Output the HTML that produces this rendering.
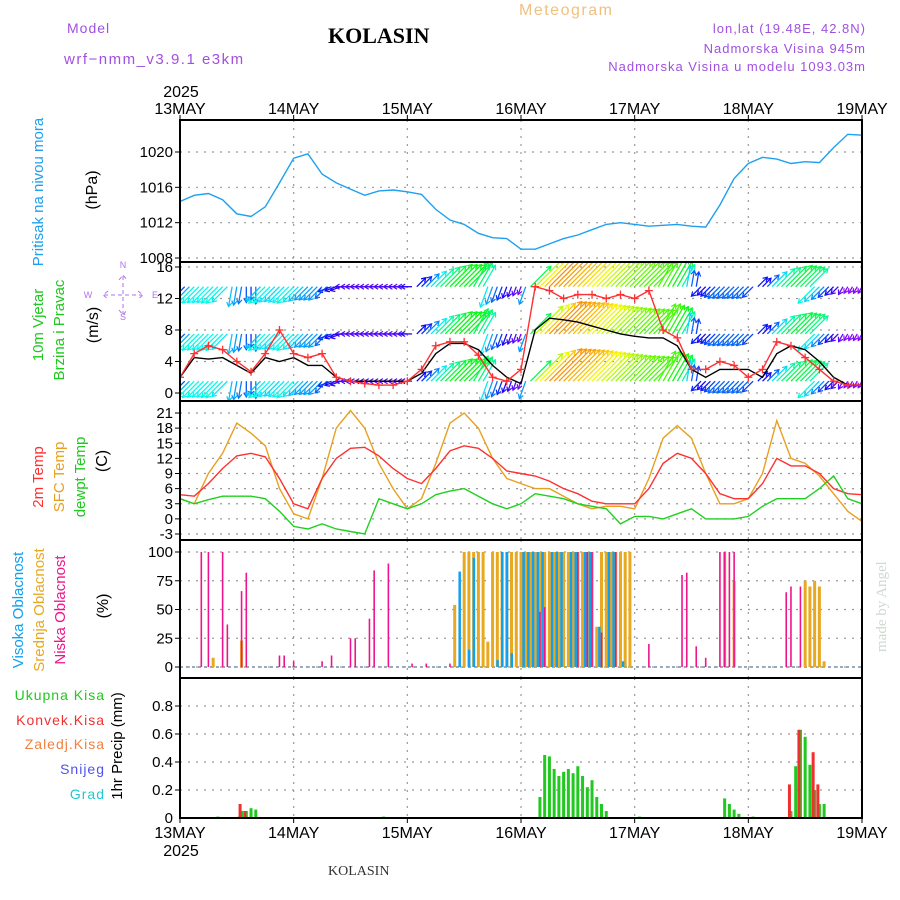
<!DOCTYPE html>
<html><head><meta charset="utf-8"><style>
body{margin:0;background:#fff}
svg{display:block}
text{font-family:"Liberation Sans",sans-serif}
text.serif{font-family:"Liberation Serif",serif}
</style></head><body>
<svg id="c" width="900" height="900" xmlns="http://www.w3.org/2000/svg">
<text x="67" y="33" fill="#a050e0" font-size="14" letter-spacing="1">Model</text>
<text x="64" y="64" fill="#a050e0" font-size="15" letter-spacing="1.5">wrf−nmm_v3.9.1  e3km</text>
<text class="serif" x="328" y="43" font-weight="bold" font-size="22">KOLASIN</text>
<text x="519" y="15" fill="#f0c080" font-size="16" letter-spacing="1.5">Meteogram</text>
<text x="866" y="33" fill="#a050e0" font-size="13" text-anchor="end" letter-spacing="1">lon,lat (19.48E, 42.8N)</text>
<text x="866" y="53" fill="#a050e0" font-size="13" text-anchor="end" letter-spacing="1">Nadmorska Visina 945m</text>
<text x="866" y="71" fill="#a050e0" font-size="13" text-anchor="end" letter-spacing="1">Nadmorska Visina u modelu 1093.03m</text>
<text class="serif" x="328" y="875" font-size="14" fill="#333">KOLASIN</text>
<text class="serif" transform="translate(886,652) rotate(-90)" fill="#d0d8d0" font-size="15">made by Angel</text>
</svg>
<script>
const NS="http://www.w3.org/2000/svg";
const svg=document.getElementById('c');
function mk(tag,attrs,parent){const e=document.createElementNS(NS,tag);for(const k in attrs)e.setAttribute(k,attrs[k]);(parent||svg).appendChild(e);return e;}

// ---- data ----
const days=["13MAY","14MAY","15MAY","16MAY","17MAY","18MAY","19MAY"];
const hours3=[0,3,6,9,12,15,18,21,24,27,30,33,36,39,42,45,48,51,54,57,60,63,66,69,72,75,78,81,84,87,90,93,96,99,102,105,108,111,114,117,120,123,126,129,132,135,138,141,144];
const pressure=[1014.4,1015.1,1015.3,1014.6,1013.0,1012.7,1013.8,1016.5,1019.3,1019.8,1017.5,1016.5,1015.8,1015.1,1015.6,1015.7,1015.5,1015.2,1013.5,1012.3,1011.8,1010.8,1010.3,1010.2,1009.0,1009.0,1009.6,1010.2,1010.6,1011.2,1011.8,1012.0,1011.8,1011.6,1011.7,1011.8,1011.6,1011.5,1014.0,1017.0,1018.7,1019.4,1019.2,1018.7,1018.9,1018.8,1020.5,1022.0,1021.9];
const windSpeed=[2,4.5,4.3,4.5,3.5,2.5,4.5,4,4.5,3.5,3.5,2,1.5,1.5,1.5,1.5,1.5,2.5,5,6.3,6.3,5.5,3.5,2,1.2,8,9.5,9.3,9,8.5,8,7.5,7.2,7,7,6,3,2,3,3,3,2,5,6,5.5,4,2,1,1];
const windGust=[2,5,6,5.5,4,2.7,5,8,5,4.5,5,2,1.5,1.2,1,1,1.5,3,6,6.5,6.5,4.8,2,1.5,3,13.5,13,12,12.5,12.5,12,12.5,12,13,8,7,3,3,4,3.5,2,3,6.5,6,4.5,3,1.5,1,1];
const windDir=[225,225,225,225,260,270,225,225,225,225,225,200,180,180,180,180,180,45,45,45,45,60,250,250,250,45,45,45,45,45,45,45,45,45,60,60,80,225,225,225,225,45,45,45,45,225,225,240,240];
const temp2m=[4.8,4.5,7,10,12.5,13,12.3,8,3,2,8,12,14,14.2,12.5,10,8,7,10,13.5,14.5,14,12,9.5,9,8.5,7.5,6,5,3.5,3,3,3,6,11,13,12,9,5,4,4,7,12,10.5,10.5,9,6,5,4.8];
const tempSfc=[4,3,9,13,19,17,14.5,6,1,0,8,18,21.5,18,11,6,2,4,11,19,21,18,12,8,7,6,6,4.5,3,2,2.5,2.5,2,8,16,18.5,16,9,3,3,4,9,19.5,12,11,8.5,5,1.5,-0.5];
const dewpt=[4,3,3.8,4.5,4.5,4.5,4,1.5,-1.5,-2,-1,-2,-2.5,-3,4,3,2,3,4.8,5.5,6,4.5,3,2,3,5,4.5,4,3,2.5,2,-1,0.5,0.5,0,1,2,0,0,0,0.5,2.5,4,4,4,6,8.5,4,3];
const lowHours=[4.5,6,9,10,13,14,21,22,24,30,32,36,37,40,41,44,49,52,57,76,77,84,86,87,89,92,99,106,107,109,111,114,115,116,117,128,129,131];
const lowVals=[100,100,100,37,66,82,10,10,5,5,10,25,25,42,84,90,3,3,3,48,52,100,100,100,30,100,20,80,82,18,8,100,100,100,100,65,70,70];
const midHours=[7,13,58,60,61,62,63,64,65,66,67,68,69,70,71,72,73,74,75,76,77,78,79,80,81,82,83,84,85,86,87,88,89,90,91,92,93,94,95,115,117,132,133,134,135,136];
const midVals=[8,23,54,100,100,100,100,100,22,100,100,100,100,100,100,100,100,100,100,100,100,100,100,100,100,100,100,100,100,100,100,35,100,100,100,100,100,100,100,100,75,75,70,75,70,5];
const highHours=[59,61,62,67,68,69,70,72.5,73.5,74.5,75.5,76.5,78.5,79.5,80.5,82.5,83.5,85.5,86.5,88.5,90.5,91.5,93.5];
const highVals=[83,15,95,6,100,100,12,100,100,100,100,100,100,100,100,100,100,100,100,35,100,100,5];
const precipHours=[8,12.5,13,14,15,16,43,76,77,78,79,80,81,82,83,84,85,86,87,88,89,90,97,115,116,117,118,121,129,130,131,132,133,134,135,136];
const precipTotal=[0.01,0.01,0.05,0.05,0.07,0.06,0.01,0.15,0.45,0.44,0.35,0.3,0.33,0.35,0.32,0.37,0.3,0.22,0.27,0.15,0.1,0.05,0.01,0.14,0.1,0.06,0.03,0.01,0.05,0.37,0.63,0.58,0.38,0.2,0.1,0.1];
const precipConv=[0,0,0.1,0.05,0,0,0,0,0,0,0,0,0,0,0,0,0,0,0,0,0,0,0,0,0,0,0,0,0.24,0,0.63,0,0,0.47,0.24,0];

// ---- axes ----
const X0=180,X1=862;
const xs=h=>X0+(X1-X0)*h/144;
const panels=[
 {top:120,bot:262,v0:1008,v1:1020,y0:258,y1:152,ticks:[1008,1012,1016,1020]},
 {top:262,bot:401,v0:0,v1:16,y0:393,y1:267,ticks:[0,4,8,12,16]},
 {top:401,bot:540,v0:-3,v1:21,y0:534,y1:413,ticks:[-3,0,3,6,9,12,15,18,21]},
 {top:540,bot:678,v0:0,v1:100,y0:667,y1:552,ticks:[0,25,50,75,100]},
 {top:678,bot:818,v0:0,v1:0.8,y0:818,y1:706,ticks:[0.2,0.4,0.6,0.8],lab0:true}
];
panels.forEach(p=>p.y=v=>p.y0+(p.y1-p.y0)*(v-p.v0)/(p.v1-p.v0));
const grid=mk('g',{});


panels.forEach((p,i)=>{
  for(let d=1;d<6;d++){mk('line',{x1:xs(d*24),x2:xs(d*24),y1:p.top,y2:p.bot,stroke:'#999','stroke-dasharray':'2,6','stroke-width':1.2},grid);}
  p.ticks.forEach(t=>{const yy=p.y(t);
    mk('line',{x1:X0,x2:X1,y1:yy,y2:yy,stroke:'#999','stroke-dasharray':'2,6','stroke-width':1.2},grid);
    mk('line',{x1:X0-5,x2:X0,y1:yy,y2:yy,stroke:'#000'},grid);
    const tl=mk('text',{x:X0-7,y:yy+5,'text-anchor':'end','font-size':15});
    
    
    tl.textContent=(p.v1<1)?t.toFixed(1):t;});
  if(p.lab0){const tl=mk('text',{x:X0-7,y:p.y0+5,'text-anchor':'end','font-size':15});tl.textContent='0';
    
    }
});
days.forEach((d,i)=>{const x=xs(i*24);
  const a=mk('text',{x:x,y:114,'text-anchor':'middle','font-size':16});a.textContent=d;
  
  
  const b=mk('text',{x:x,y:838,'text-anchor':'middle','font-size':16});b.textContent=d;
  
  
  mk('line',{x1:x,x2:x,y1:120,y2:115,stroke:'#000'});mk('line',{x1:x,x2:x,y1:818,y2:823,stroke:'#000'});
});
[[181,97],[181,856]].forEach(([x,y])=>{const t=mk('text',{x:x,y:y,'text-anchor':'middle','font-size':16});t.textContent='2025';
 
 });

function line(h,vals,p,color,name){
  const d=h.map((hh,i)=>(i?'L':'M')+xs(hh).toFixed(1)+','+p.y(vals[i]).toFixed(1)).join('');
  const e=mk('path',{d:d,fill:'none',stroke:color,'stroke-width':1.4});
  
  
  return e;
}
panels.forEach((p,i)=>{const cp=mk('clipPath',{id:'cp'+i});mk('rect',{x:X0,y:p.top,width:X1-X0,height:p.bot-p.top},cp);});
// pressure
const g0=mk('g',{'clip-path':'url(#cp0)'});
g0.appendChild(line(hours3,pressure,panels[0],'#1ea0f0','pressure-line'));
// wind arrows
const g1=mk('g',{'clip-path':'url(#cp1)'});
const P1=panels[1];
function interp(arr,h){const i=Math.min(Math.floor(h/3),arr.length-2);const f=(h-hours3[i])/3;return arr[i]+(arr[i+1]-arr[i])*f;}
[1.5,7.5,13.5].forEach(b=>{
  for(let h=0;h<=144;h+=1){
    const s=interp(windSpeed,h);const dir=windDir[Math.min(Math.round(h/3),48)];
    const hue=((300-s*28)%360+360)%360;
    const col='hsl('+hue+',95%,50%)';
    const len=3+s*4.5;const a=dir*Math.PI/180;
    const x1=xs(h),y1=P1.y(b),x2=x1+Math.cos(a)*len,y2=y1-Math.sin(a)*len;
    const ar=mk('line',{x1:x1,y1:y1,x2:x2,y2:y2,stroke:col,'stroke-width':1.3},g1);
    
    
    const ax=Math.cos(a+2.6)*5,ay=-Math.sin(a+2.6)*5,bx=Math.cos(a-2.6)*5,by=-Math.sin(a-2.6)*5;
    mk('path',{d:`M${x2+ax},${y2+ay}L${x2},${y2}L${x2+bx},${y2+by}`,fill:'none',stroke:col,'stroke-width':1.2},g1);
  }
});
g1.appendChild(line(hours3,windSpeed,P1,'#000','wind-speed-line'));
g1.appendChild(line(hours3,windGust,P1,'#ff3030','wind-gust-line'));
hours3.forEach((h,i)=>{const x=xs(h),y=P1.y(windGust[i]);
  const m=mk('path',{d:`M${x-4},${y}H${x+4}M${x},${y-4}V${y+4}`,stroke:'#ff3030','stroke-width':1.3},g1);
  
  });
// temps
const g2=mk('g',{'clip-path':'url(#cp2)'});
g2.appendChild(line(hours3,tempSfc,panels[2],'#e8a020','sfc-temp-line'));
g2.appendChild(line(hours3,temp2m,panels[2],'#ff3030','temp-2m-line'));
g2.appendChild(line(hours3,dewpt,panels[2],'#20d020','dewpoint-line'));
// clouds
const P3=panels[3];
function bars(hs,vals,p,col,w,off,name){hs.forEach((h,i)=>{const y=p.y(vals[i]);
  const r=mk('rect',{x:xs(h)+off,y:y,width:w,height:p.y0-y,fill:col});
  
  });}
mk('line',{x1:X0,x2:X1,y1:P3.y0,y2:P3.y0,stroke:'#9ab','stroke-width':2,'stroke-dasharray':'3,3'});
bars(midHours,midVals,P3,'#e8a820',3,-1.5,'mid-cloud-bar');
bars(highHours,highVals,P3,'#10a0f0',2.5,-1,'high-cloud-bar');
bars(lowHours,lowVals,P3,'#f0148c',1.6,-0.8,'low-cloud-bar');
// precip
const P4=panels[4];
bars(precipHours,precipTotal,P4,'#20c820',3,-1.5,'total-precip-bar');
bars(precipHours,precipConv,P4,'#f03030',3,-3,'convective-precip-bar');
// borders
panels.forEach(p=>{const r=mk('rect',{x:X0,y:p.top,width:X1-X0,height:p.bot-p.top,fill:'none',stroke:'#000','stroke-width':2});
 
 });
// left labels
function vlab(x,y,txt,col,size,name){const t=mk('text',{transform:`translate(${x},${y}) rotate(-90)`,'text-anchor':'middle',fill:col,'font-size':size||15});t.textContent=txt;
 
 }
vlab(43,192,'Pritisak na nivou mora','#1ea0f0',15,'pressure-title');
vlab(97,190,'(hPa)','#000',16,'pressure-unit');
vlab(43,325,'10m Vjetar','#20c820',15,'wind-title-1');
vlab(64,330,'Brzina i Pravac','#20c820',15,'wind-title-2');
vlab(98,325,'(m/s)','#000',16,'wind-unit');
vlab(43,477,'2m Temp','#ff3030',15,'temp-2m-title');
vlab(64,477,'SFC Temp','#e8a020',15,'sfc-temp-title');
vlab(85,477,'dewpt Temp','#20c820',15,'dewpt-title');
vlab(107,461,'(C)','#000',16,'temp-unit');
vlab(23,610,'Visoka Oblacnost','#10a0f0',15,'high-cloud-title');
vlab(44,610,'Srednja Oblacnost','#e8a820',15,'mid-cloud-title');
vlab(65,610,'Niska Oblacnost','#f0148c',15,'low-cloud-title');
vlab(108,606,'(%)','#000',16,'cloud-unit');
vlab(122,746,'1hr Precip (mm)','#000',15,'precip-title');
[['Ukupna  Kisa','#20c820',700],['Konvek.Kisa','#f03030',725],['Zaledj.Kisa','#f08040',749],['Snijeg','#5050f0',774],['Grad','#20c8d0',799]].forEach(([t,c,y])=>{
  const e=mk('text',{x:105,y:y,'text-anchor':'end',fill:c,'font-size':14,'letter-spacing':1});e.textContent=t;
  
  });
// compass
const cg=mk('g',{fill:'#b070f0','font-size':9,'text-anchor':'middle'});


[['N',123,268],['S',123,320],['W',88,298],['E',155,298]].forEach(([t,x,y])=>{const e=mk('text',{x:x,y:y},cg);e.textContent=t;});
mk('path',{d:'M104,295H142M123,276V314M108,291L103,295L108,299M138,291L143,295L138,299M119,280L123,275L127,280M119,310L123,315L127,310',stroke:'#b070f0',fill:'none','stroke-dasharray':'4,3'},cg);
</script>
</body></html>
